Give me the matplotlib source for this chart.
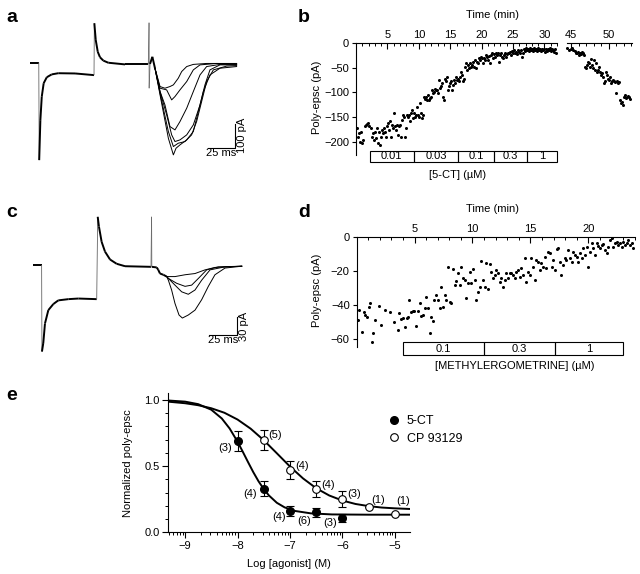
import matplotlib.pyplot as plt
from matplotlib.patches import Rectangle
from matplotlib.lines import Line2D
from matplotlib.ticker import MultipleLocator, FixedLocator
import numpy as np

plt.rcParams['font.family'] = ['Liberation Sans', 'DejaVu Sans']
plt.rcParams['font.size'] = 7.5
plt.rcParams['axes.linewidth'] = 0.8

W, H = 640, 574


def box(x0, y0, x1, y1):
    # pixel rectangle (top-left origin) -> figure fraction
    return [x0 / W, 1 - y1 / H, (x1 - x0) / W, (y1 - y0) / H]


# ---------------- panel a : currents (ms, pA) ----------------
a_common_t = [0, 8.2, 8.6, 9.7, 11.0, 12.8, 15.7, 20.3, 26.5, 42.2, 60.0, 60.3, 61.6, 63.5,
              65.6, 68.7, 73.4, 89.1, 110.9, 111.6, 111.7, 112.5, 114.7, 117.2]
a_common_i = [0, 0, -410, -242, -144, -87, -62, -50, -45, -46, -53, 165, 95, 45,
              22, 8, -1, -8, -8, 167, -108, -6, 24, -25]
a_epsc_t = [
    [117.2, 121.9, 126.5, 131.2, 134.4, 139.0, 142.2, 146.9, 153.1, 165.6, 193.7],
    [117.2, 121.9, 128.1, 132.8, 135.9, 140.6, 146.9, 153.1, 159.4, 175.0, 193.7],
    [117.2, 121.9, 126.5, 131.2, 135.9, 140.6, 146.9, 153.1, 159.4, 165.6, 178.1, 193.7],
    [117.2, 121.9, 128.1, 132.8, 135.9, 140.6, 146.9, 153.1, 159.4, 164.0, 168.7, 178.1, 193.7],
    [117.2, 121.9, 129.7, 134.4, 139.0, 145.3, 151.5, 156.2, 160.9, 165.6, 171.9, 184.4, 193.7],
    [117.2, 121.9, 129.7, 134.4, 136.9, 140.6, 146.9, 153.1, 157.8, 162.5, 168.7, 178.1, 193.7],
]
a_epsc_i = [
    [-25, -101, -108, -101, -94, -66, -38, -17, -8, -4, -4],
    [-25, -108, -115, -157, -143, -115, -80, -31, -10, -4, -6],
    [-25, -122, -178, -269, -283, -248, -192, -122, -52, -17, -8, -8],
    [-25, -122, -220, -304, -332, -325, -304, -262, -178, -94, -31, -10, -10],
    [-25, -129, -290, -353, -339, -332, -304, -248, -164, -80, -31, -15, -13],
    [-25, -136, -318, -388, -360, -346, -325, -290, -206, -122, -52, -24, -17],
]
a_scale = dict(t0=166.9, i0=-358, dt=25, di=100, tlabel='25 ms', ilabel='100 pA')

# ---------------- panel c : currents (ms, pA) ----------------
c_common_t = [0, 7.7, 8.0, 9.2, 10.7, 13.7, 18.2, 22.6, 31.6, 40.5, 56.9, 57.8, 58.9, 61.3,
              64.3, 68.8, 74.7, 82.2, 105.4, 105.9, 106.1, 110.5, 111.9, 113.4, 116.4, 119.4]
c_common_i = [0, 0, -142, -128, -96, -74, -64, -58, -56, -55, -56, 79, 63, 38,
              22, 9, 2, -2, -3, 79, -3, -4, -8, -14, -16, -19]
c_epsc_t = [
    [119.4, 120.9, 126.8, 135.8, 144.7, 153.6, 162.5, 186.4],
    [119.4, 120.9, 128.3, 135.8, 141.7, 147.7, 155.1, 165.5, 186.4],
    [119.4, 120.9, 126.8, 132.8, 138.7, 144.7, 150.6, 158.1, 171.5, 186.4],
    [119.4, 120.9, 123.8, 126.8, 130.4, 133.4, 138.7, 144.7, 150.6, 156.6, 162.5, 171.5, 186.4],
]
c_epsc_i = [
    [-19, -19, -19, -16, -14, -8, -4, -2],
    [-19, -22, -30, -35, -33, -22, -8, -3, -2],
    [-19, -22, -33, -44, -48, -41, -25, -8, -3, -2],
    [-19, -25, -41, -63, -82, -87, -82, -74, -57, -35, -16, -5, -2],
]
c_scale = dict(t0=157.4, i0=-115, dt=25, di=30, tlabel='25 ms', ilabel='30 pA')

# ---------------- panel b : time course (min, pA) ----------------
b_t1 = [0.13, 0.34, 0.50, 0.66, 0.87, 1.03, 1.19, 1.40, 1.56, 1.71, 1.93, 2.14,
        2.35, 2.51, 2.67, 2.88, 3.04, 3.20, 3.41, 3.51, 3.67, 3.83, 4.04, 4.20, 4.36, 4.47, 4.63, 4.78, 4.94,
        5.10, 5.26, 5.42, 5.58, 5.74, 5.89, 6.05, 6.21, 6.37, 6.53, 6.69, 6.85, 7.01, 7.16, 7.32, 7.48, 7.64,
        7.80, 7.96, 8.12, 8.28, 8.43, 8.59, 8.75, 8.91, 9.07, 9.23, 9.39, 9.54, 9.70, 9.86, 10.02, 10.18,
        10.34, 10.50, 10.66, 10.81, 10.97, 11.13, 11.29, 11.45, 11.61, 11.77, 11.92, 12.08, 12.24, 12.40, 12.56, 12.72, 12.88,
        13.04, 13.20, 13.35, 13.51, 13.67, 13.83, 13.99, 14.15, 14.31, 14.47, 14.62, 14.78, 14.94, 15.10, 15.26, 15.42, 15.58,
        15.73, 15.89, 16.05, 16.21, 16.37, 16.53, 16.69, 16.85, 17.01, 17.16, 17.32, 17.48, 17.64, 17.80, 17.96, 18.12,
        18.27, 18.43, 18.59, 18.75, 18.91, 19.07, 19.23, 19.39, 19.55, 19.70, 19.86, 20.02, 20.18, 20.34, 20.50, 20.66, 20.81,
        20.97, 21.13, 21.29, 21.45, 21.61, 21.77, 21.93, 22.08, 22.24, 22.40, 22.56, 22.72, 22.88, 23.04, 23.20, 23.36, 23.51,
        23.67, 23.83, 23.99, 24.15, 24.31, 24.47, 24.63, 24.78, 24.94, 25.10, 25.26, 25.42, 25.58, 25.74, 25.90, 26.05, 26.21,
        26.37, 26.53, 26.69, 26.85, 27.01, 27.17, 27.32, 27.48, 27.64, 27.80, 27.96, 28.12, 28.28, 28.43, 28.59, 28.75, 28.91,
        29.07, 29.23, 29.39, 29.55, 29.70, 29.86, 30.02, 30.18, 30.34, 30.50, 30.66, 30.81, 30.97, 31.13, 31.29, 31.45, 31.61, 31.77]
b_v1 = [-173, -190, -183, -200, -180, -203, -196, -169, -166, -164, -163, -169,
        -173, -190, -183, -196, -180, -193, -173, -203, -180, -207, -190, -176, -183, -173, -180, -190, -169,
        -163, -176, -159, -190, -166, -173, -142, -168, -176, -166, -186, -169, -166, -190, -156, -146, -149,
        -190, -173, -146, -149, -146, -159, -142, -136, -153, -142, -149, -146, -129, -146, -149, -122,
        -142, -153, -146, -109, -114, -109, -115, -105, -115, -112, -109, -95, -101, -99, -94, -95, -95,
        -102, -75, -92, -88, -82, -109, -115, -72, -78, -68, -95, -88, -82, -78, -95, -85, -75,
        -82, -68, -75, -72, -78, -68, -58, -65, -78, -72, -48, -41, -55, -45, -51, -41,
        -48, -45, -38, -48, -34, -51, -38, -41, -31, -34, -28, -31, -41, -31, -34, -24, -28,
        -34, -26, -41, -24, -21, -31, -22, -28, -20, -24, -21, -38, -24, -20, -28, -31, -24,
        -21, -28, -23, -20, -21, -18, -24, -16, -21, -14, -20, -18, -22, -14, -18, -20, -14,
        -29, -21, -13, -16, -11, -14, -12, -16, -11, -14, -13, -16, -11, -14, -12, -16, -11,
        -14, -13, -16, -12, -14, -13, -18, -12, -16, -13, -14, -11, -16, -13, -14, -18, -12, -20]
b_t2 = [44.49, 44.71, 44.93, 45.16, 45.29, 45.47, 45.60, 45.73, 45.87, 46.00, 46.13, 46.27, 46.40,
        46.53, 46.67, 46.80, 46.93, 47.07, 47.20, 47.33, 47.47, 47.60, 47.73, 47.87, 48.00, 48.13,
        48.27, 48.40, 48.53, 48.67, 48.80, 48.93, 49.07, 49.20, 49.33, 49.47, 49.60, 49.73, 49.87,
        50.00, 50.13, 50.27, 50.40, 50.53, 50.67, 50.80, 50.93, 51.07, 51.20, 51.33, 51.47, 51.60,
        51.73, 51.87, 52.00, 52.13, 52.27, 52.40, 52.53, 52.67, 52.80]
b_v2 = [-11, -14, -13, -11, -14, -16, -20, -21, -18, -24, -20, -22, -18, -21, -24, -48, -51, -45,
        -38, -41, -48, -33, -45, -51, -34, -55, -41, -58, -55, -48, -58, -65, -61, -68, -82, -78,
        -58, -65, -72, -75, -68, -82, -78, -75, -78, -80, -102, -78, -82, -80, -115, -122, -119,
        -126, -109, -105, -112, -109, -107, -109, -114]
b_conc_edges = [2.2, 9.2, 16.3, 22.0, 27.2, 32.0]
b_conc_labels = ['0.01', '0.03', '0.1', '0.3', '1']

# ---------------- panel d : time course (min, pA) ----------------
d_t = [0.09, 0.23, 0.46, 0.61, 0.75, 0.89, 1.04, 1.15, 1.30, 1.44, 1.59, 1.90, 2.11, 2.48, 2.91,
       3.26, 3.55, 3.69, 3.84, 3.98, 4.13, 4.33, 4.42, 4.50, 4.70, 4.85, 4.99, 5.14, 5.28, 5.43,
       5.57, 5.71, 5.86, 6.00, 6.15, 6.29, 6.44, 6.58, 6.72, 6.87, 7.01, 7.16, 7.30, 7.45, 7.59,
       7.73, 7.88, 8.02, 8.17, 8.31, 8.46, 8.60, 8.74, 8.89, 9.03, 9.18, 9.32, 9.47, 9.61, 9.75,
       9.90, 10.04, 10.19, 10.33, 10.48, 10.62, 10.76, 10.91, 11.05, 11.20, 11.34, 11.49, 11.63,
       11.77, 11.92, 12.06, 12.21, 12.35, 12.50, 12.64, 12.78, 12.93, 13.07, 13.22, 13.36, 13.51,
       13.65, 13.80, 13.94, 14.08, 14.23, 14.37, 14.52, 14.66, 14.81, 14.95, 15.09, 15.24, 15.38,
       15.53, 15.67, 15.82, 15.96, 16.10, 16.25, 16.39, 16.54, 16.68, 16.83, 16.97, 17.11, 17.26,
       17.40, 17.55, 17.69, 17.84, 17.98, 18.12, 18.27, 18.41, 18.56, 18.70, 18.85, 18.99, 19.13,
       19.28, 19.42, 19.57, 19.71, 19.86, 20.00, 20.14, 20.29, 20.43, 20.58, 20.72, 20.87, 21.01,
       21.15, 21.30, 21.44, 21.59, 21.73, 21.88, 22.02, 22.16, 22.31, 22.45, 22.60, 22.74, 22.89,
       23.03, 23.17, 23.32, 23.46, 23.61, 23.75, 23.90]
d_v = [-48.9, -43.0, -55.7, -44.0, -45.9, -46.9, -41.1, -39.1, -61.6, -56.7, -48.9, -40.7, -51.8, -43.0, -44.0,
       -49.9, -54.7, -45.0, -48.5, -47.9, -52.8, -47.9, -46.9, -37.1, -44.0, -43.4, -43.4, -52.4, -43.4, -39.1,
       -46.5, -45.9, -42.0, -35.6, -42.0, -56.3, -46.9, -49.3, -37.1, -34.2, -37.1, -42.0, -29.3, -41.4, -34.2,
       -37.1, -17.6, -38.1, -38.7, -19.2, -28.3, -25.8, -21.5, -28.3, -18.0, -24.4, -25.4, -36.2, -27.4, -20.5,
       -27.4, -19.2, -25.4, -37.1, -32.3, -29.3, -14.1, -25.4, -29.3, -15.6, -30.9, -16.0, -20.5,
       -24.4, -22.5, -19.6, -21.5, -26.4, -24.4, -29.3, -25.4, -21.5, -24.4, -21.5, -21.5, -22.5,
       -24.4, -20.5, -19.6, -23.5, -18.6, -22.5, -12.7, -26.4, -20.5, -22.5, -12.7, -17.6, -25.4,
       -13.7, -14.7, -19.6, -15.6, -17.6, -11.7, -18.6, -8.8, -9.8, -17.6, -13.7, -19.6, -7.4,
       -6.8, -14.7, -22.5, -16.6, -12.7, -13.7, -7.8, -12.7, -14.7, -8.8, -10.8, -11.7, -14.7,
       -9.8, -12.7, -6.8, -10.8, -5.9, -17.6, -8.8, -3.9, -6.8, -10.8, -3.9, -5.5, -6.8,
       -4.9, -4.3, -7.8, -9.8, -5.9, -2.0, -1.0, -5.9, -3.9, -2.9, -4.9, -3.9, -5.9,
       -2.9, -4.9, -3.9, -2.0, -4.9, -3.5, -6.8]
d_conc_edges = [4.0, 11.0, 17.1, 23.0]
d_conc_labels = ['0.1', '0.3', '1']

# ---------------- panel e : concentration-response ----------------
e_x_5ct = [-8.0, -7.5, -7.0, -6.5, -6.0]
e_y_5ct = [0.69, 0.33, 0.16, 0.15, 0.11]
e_err_5ct = [0.075, 0.055, 0.04, 0.035, 0.03]
e_n_5ct = ['(3)', '(4)', '(4)', '(6)', '(3)']
e_x_cp = [-7.5, -7.0, -6.5, -6.0, -5.5, -5.0]
e_y_cp = [0.70, 0.47, 0.33, 0.25, 0.19, 0.14]
e_err_cp = [0.075, 0.065, 0.06, 0.06, 0, 0]
e_n_cp = ['(5)', '(4)', '(4)', '(3)', '(1)', '(1)']
fit_x_5ct = [-9.3, -9.0, -8.75, -8.5, -8.3, -8.15, -8.0, -7.9, -7.8, -7.7, -7.6, -7.5, -7.4,
             -7.25, -7.1, -6.9, -6.6, -6.2, -5.5, -4.7]
fit_y_5ct = [0.995, 0.987, 0.968, 0.926, 0.860, 0.784, 0.685, 0.609, 0.531, 0.455, 0.386, 0.327,
             0.278, 0.223, 0.188, 0.161, 0.143, 0.135, 0.133, 0.133]
fit_x_cp = [-9.3, -9.0, -8.75, -8.5, -8.25, -8.0, -7.75, -7.5, -7.25, -7.0, -6.75, -6.5, -6.25,
            -6.0, -5.75, -5.5, -5.25, -5.0, -4.7]
fit_y_cp = [0.986, 0.975, 0.960, 0.937, 0.903, 0.852, 0.783, 0.696, 0.597, 0.497, 0.407, 0.333,
            0.278, 0.240, 0.214, 0.198, 0.187, 0.181, 0.176]

fig = plt.figure(figsize=(6.4, 5.74), dpi=100)


def draw_traces(ax, ct, ci, ets, eis, sc):
    for t, i in zip(ets, eis):
        ax.plot(t, i, color='k', lw=0.7)
    # overlaid holding-step part: fast jumps are thin grey, the rest thick
    for k in range(len(ct) - 1):
        fast = ct[k + 1] - ct[k] < 1.0
        ax.plot(ct[k:k + 2], ci[k:k + 2], color='0.4' if fast else 'k',
                lw=0.6 if fast else 1.4, solid_capstyle='butt')
    ax.plot([sc['t0'], sc['t0'] + sc['dt'], sc['t0'] + sc['dt']],
            [sc['i0'], sc['i0'], sc['i0'] + sc['di']], color='k', lw=0.8)
    ax.text(sc['t0'] + sc['dt'] / 2, sc['i0'], sc['tlabel'], ha='center', va='top', fontsize=8)
    ax.text(sc['t0'] + sc['dt'] + 2, sc['i0'] + sc['di'] / 2, sc['ilabel'], rotation=90,
            ha='left', va='center', fontsize=8)
    ax.axis('off')


axa = fig.add_axes(box(20, 10, 250, 170))
draw_traces(axa, a_common_t, a_common_i, a_epsc_t, a_epsc_i, a_scale)
axa.set_xlim(-9.4, 206.25)
axa.set_ylim(-451.5, 220.5)

axc = fig.add_axes(box(20, 200, 250, 360))
draw_traces(axc, c_common_t, c_common_i, c_epsc_t, c_epsc_i, c_scale)
axc.set_xlim(-11.6, 193.8)
axc.set_ylim(-155.8, 106.6)


def time_axis(ax, left=True):
    ax.spines['right'].set_visible(False)
    ax.spines['bottom'].set_visible(False)
    ax.spines['left'].set_visible(left)
    ax.xaxis.tick_top()
    ax.xaxis.set_minor_locator(MultipleLocator(1))
    ax.tick_params(axis='x', which='major', direction='in', length=4, width=0.8, pad=2, labelsize=8)
    ax.tick_params(axis='x', which='minor', direction='in', length=2.5, width=0.7)
    ax.tick_params(axis='y', direction='out', length=3, width=0.8, pad=2, labelsize=8)
    if not left:
        ax.tick_params(axis='y', left=False, labelleft=False)


def conc_boxes(ax, edges, labels, y0, h):
    for k, lab in enumerate(labels):
        ax.add_patch(Rectangle((edges[k], y0), edges[k + 1] - edges[k], h, fill=False,
                               lw=0.8, ec='k', clip_on=False))
        ax.text((edges[k] + edges[k + 1]) / 2, y0 + h / 2, lab, ha='center', va='center',
                fontsize=8, clip_on=False)


# panel b
axb1 = fig.add_axes(box(356, 43, 557, 155))
axb1.plot(b_t1, b_v1, 'o', ms=2.2, mew=0, color='k', clip_on=False)
axb1.set_xlim(0, 32.0)
axb1.set_ylim(-227, 0)
axb1.set_xticks([5, 10, 15, 20, 25, 30])
axb1.set_yticks([0, -50, -100, -150, -200])
time_axis(axb1)
conc_boxes(axb1, b_conc_edges, b_conc_labels, -242, 24)

axb2 = fig.add_axes(box(566.7, 43, 631.7, 155))
axb2.plot(b_t2, b_v2, 'o', ms=2.2, mew=0, color='k', clip_on=False)
axb2.set_xlim(44.4, 53.07)
axb2.set_ylim(-227, 0)
axb2.set_xticks([45, 50])
time_axis(axb2, left=False)

fig.text(493 / W, 1 - 15 / H, 'Time (min)', ha='center', va='center', fontsize=8)
fig.text(317 / W, 1 - 97 / H, 'Poly-epsc (pA)', rotation=90, ha='center', va='center', fontsize=8)
fig.text(458 / W, 1 - 175 / H, '[5-CT] (\u00b5M)', ha='center', va='center', fontsize=8)

# panel d
axd = fig.add_axes(box(356.7, 236.7, 635, 346.7))
axd.plot(d_t, d_v, 'o', ms=2.2, mew=0, color='k', clip_on=False)
axd.set_xlim(0, 24.04)
axd.set_ylim(-64.5, 0)
axd.set_xticks([5, 10, 15, 20])
axd.set_yticks([0, -20, -40, -60])
time_axis(axd)
conc_boxes(axd, d_conc_edges, d_conc_labels, -69.4, 7.5)

fig.text(493 / W, 1 - 209 / H, 'Time (min)', ha='center', va='center', fontsize=8)
fig.text(317 / W, 1 - 290 / H, 'Poly-epsc (pA)', rotation=90, ha='center', va='center', fontsize=8)
fig.text(515 / W, 1 - 366 / H, '[METHYLERGOMETRINE] (\u00b5M)', ha='center', va='center', fontsize=8)

# panel e
axe = fig.add_axes(box(168.3, 393.3, 410, 532.3))
axe.plot(fit_x_5ct, fit_y_5ct, color='k', lw=1.4)
axe.plot(fit_x_cp, fit_y_cp, color='k', lw=1.4)
axe.errorbar(e_x_5ct, e_y_5ct, yerr=e_err_5ct, fmt='o', ms=5.5, mfc='k', mec='k',
             ecolor='k', elinewidth=0.8, capsize=3, capthick=0.8, zorder=4)
axe.errorbar(e_x_cp, e_y_cp, yerr=e_err_cp, fmt='o', ms=5.5, mfc='white', mec='k', mew=0.8,
             ecolor='k', elinewidth=0.8, capsize=3, capthick=0.8, zorder=4)
off_5ct = [(-12, -7), (-14, -5), (-11, -6), (-12, -9), (-12, -5)]
off_cp = [(11, 5), (12, 4), (12, 4), (12, 5), (10, 7), (8, 13)]
for x, y, n, o in zip(e_x_5ct, e_y_5ct, e_n_5ct, off_5ct):
    axe.annotate(n, (x, y), xytext=o, textcoords='offset pixels', ha='center', va='center', fontsize=8)
for x, y, n, o in zip(e_x_cp, e_y_cp, e_n_cp, off_cp):
    axe.annotate(n, (x, y), xytext=o, textcoords='offset pixels', ha='center', va='center', fontsize=8)
axe.set_xlim(-9.32, -4.71)
axe.set_ylim(0, 1.05)
axe.set_xticks([-9, -8, -7, -6, -5])
axe.xaxis.set_minor_locator(FixedLocator([d + np.log10(k) for d in range(-10, -4) for k in range(2, 10)]))
axe.set_yticks([0, 0.5, 1.0])
axe.set_yticklabels(['0.0', '0.5', '1.0'])
axe.yaxis.set_minor_locator(MultipleLocator(0.1))
axe.spines['top'].set_visible(False)
axe.spines['right'].set_visible(False)
axe.tick_params(which='major', direction='out', length=4, width=0.8, pad=2, labelsize=8)
axe.tick_params(which='minor', direction='out', length=2, width=0.7)
axe.set_xlabel('Log [agonist] (M)', fontsize=8, labelpad=6)
axe.set_ylabel('Normalized poly-epsc', fontsize=8, labelpad=8)
handles = [Line2D([], [], ls='none', marker='o', ms=5.5, mfc='k', mec='k'),
           Line2D([], [], ls='none', marker='o', ms=5.5, mfc='white', mec='k', mew=0.8)]
axe.legend(handles, ['5-CT', 'CP 93129'], loc='center left',
           bbox_to_anchor=(388 / W, 1 - 430 / H), bbox_transform=fig.transFigure,
           frameon=False, handlelength=1.0, handletextpad=0.5, labelspacing=0.45, borderpad=0,
           borderaxespad=0, fontsize=9)

for lab, x, y in [('a', 6, 18), ('b', 298, 18), ('c', 6, 212), ('d', 298, 212), ('e', 6, 395)]:
    fig.text(x / W, 1 - y / H, lab, fontsize=14, fontweight='bold', ha='left', va='center')

fig.savefig('out.png', dpi=100)
